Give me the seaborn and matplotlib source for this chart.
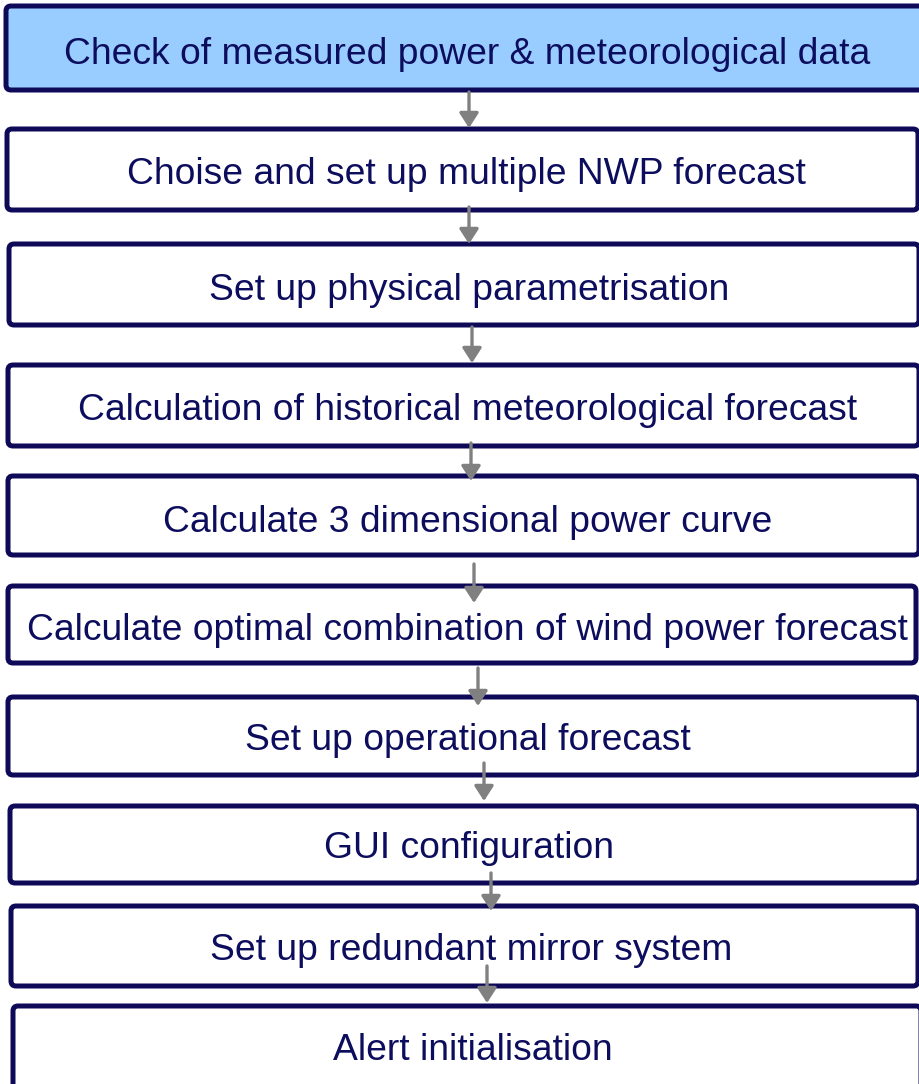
import seaborn as sns
import matplotlib.pyplot as plt
from matplotlib.patches import FancyBboxPatch

# flowchart steps, top to bottom
steps = [
    "Check of measured power & meteorological data",
    "Choise and set up multiple NWP forecast",
    "Set up physical parametrisation",
    "Calculation of historical meteorological forecast",
    "Calculate 3 dimensional power curve",
    "Calculate optimal combination of wind power forecast",
    "Set up operational forecast",
    "GUI configuration",
    "Set up redundant mirror system",
    "Alert initialisation",
]

# box geometry in pixel units (y goes down)
box_left = [6, 7, 9, 8, 8, 8, 8, 10, 11, 13]
box_right = [926, 918, 919, 919, 919, 916, 919, 919, 918, 921]
box_top = [6, 129, 244, 365, 476, 586, 697, 806, 906, 1006]
box_bottom = [90, 210, 325, 446, 555, 663, 775, 883, 986, 1092]
text_x = [467, 466, 469, 468, 468, 467, 468, 469, 471, 473]
text_y = [54, 175, 290, 410, 522, 630, 741, 849, 950, 1051]

# arrows between boxes
arrow_x = [469, 469, 472, 471, 474, 478, 484, 491, 487]
arrow_y0 = [92, 207, 327, 443, 564, 668, 763, 873, 966]
arrow_y1 = [128, 244, 363, 481, 603, 706, 801, 911, 1003]

sns.set_style("white")
plt.rcParams["font.family"] = ["Liberation Sans", "DejaVu Sans"]

fig = plt.figure(figsize=(9.2, 10.84), dpi=100)
ax = fig.add_axes([0, 0, 1, 1])
ax.set_xlim(0, 920)
ax.set_ylim(1084, 0)
ax.axis("off")

edge = "#0e0a58"
for i, label in enumerate(steps):
    fill = "#99ccff" if i == 0 else "white"
    box = FancyBboxPatch(
        (box_left[i], box_top[i]),
        box_right[i] - box_left[i],
        box_bottom[i] - box_top[i],
        boxstyle="round,pad=0,rounding_size=5",
        facecolor=fill, edgecolor=edge, linewidth=3.6, zorder=2,
    )
    ax.add_patch(box)
    ax.text(text_x[i], text_y[i], label, ha="center", va="center",
            fontsize=26.8, color="#0d0d5e", zorder=3)

for x, y0, y1 in zip(arrow_x, arrow_y0, arrow_y1):
    ax.annotate("", xy=(x, y1), xytext=(x, y0),
                arrowprops=dict(arrowstyle="-|>,head_length=0.45,head_width=0.29",
                                color="#808080", lw=2.4, shrinkA=0, shrinkB=0,
                                mutation_scale=20),
                zorder=4)

fig.savefig("out.png", dpi=100)
